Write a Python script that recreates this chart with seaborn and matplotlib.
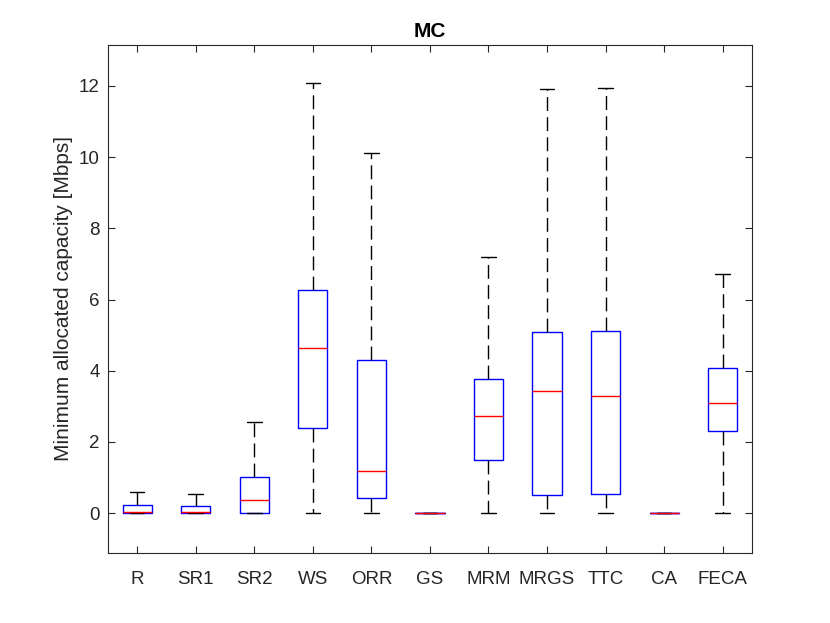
import numpy as np
import pandas as pd
import matplotlib
matplotlib.use("Agg")
import matplotlib.pyplot as plt
import seaborn as sns

# Five-number summaries: whisker low, Q1, median, Q3, whisker high
categories = ["R", "SR1", "SR2", "WS", "ORR", "GS", "MRM", "MRGS", "TTC", "CA", "FECA"]
whisker_low = [0.0, 0.0, 0.0, 0.0, 0.0, 0.0, 0.0, 0.0, 0.0, 0.0, 0.0]
q1 = [0.01, 0.0, 0.0, 2.38, 0.42, 0.0, 1.50, 0.51, 0.55, 0.0, 2.31]
median = [0.04, 0.02, 0.37, 4.64, 1.18, 0.0, 2.73, 3.43, 3.30, 0.0, 3.08]
q3 = [0.24, 0.21, 1.02, 6.27, 4.31, 0.01, 3.78, 5.09, 5.12, 0.0, 4.08]
whisker_high = [0.59, 0.53, 2.55, 12.08, 10.12, 0.01, 7.20, 11.92, 11.95, 0.0, 6.73]
yticks = [0, 2, 4, 6, 8, 10, 12]

rows = []
for i, c in enumerate(categories):
    for v in (whisker_low[i], q1[i], median[i], q3[i], whisker_high[i]):
        rows.append({"method": c, "value": v})
df = pd.DataFrame(rows)

sns.set_theme(style="white")
plt.rcParams["font.family"] = ["Liberation Sans", "DejaVu Sans"]

fig = plt.figure(figsize=(8.30, 6.23), dpi=100)
ax = fig.add_axes([0.130, 0.1124, 0.776, 0.8154])

grey = "#262626"
sns.boxplot(
    data=df, x="method", y="value", order=categories, ax=ax,
    whis=(0, 100), width=0.5, fill=False, showfliers=False,
    boxprops=dict(color="#0000ff", linewidth=1.0),
    medianprops=dict(color="#ff0000", linewidth=1.0),
    whiskerprops=dict(color="black", linewidth=1.0, linestyle=(0, (10, 4.5))),
    capprops=dict(color="black", linewidth=1.0),
)

ax.set_xlim(-0.5, 10.5)
ax.set_ylim(-1.12, 13.15)
ax.set_yticks(yticks)
ax.set_yticklabels([str(t) for t in yticks])
ax.set_xlabel("")
ax.set_ylabel("Minimum allocated capacity [Mbps]", fontsize=15, color=grey)
ax.set_title("MC", fontsize=15, fontweight="bold", color="black", pad=6)

for s in ax.spines.values():
    s.set_visible(True)
    s.set_color(grey)
    s.set_linewidth(0.8)
ax.tick_params(axis="both", direction="in", length=5, width=0.8, color=grey,
               labelsize=13.5, labelcolor=grey, top=True, right=True,
               bottom=True, left=True)
ax.tick_params(axis="x", pad=13)
ax.tick_params(axis="y", pad=6)

fig.savefig("out.png", dpi=100)
